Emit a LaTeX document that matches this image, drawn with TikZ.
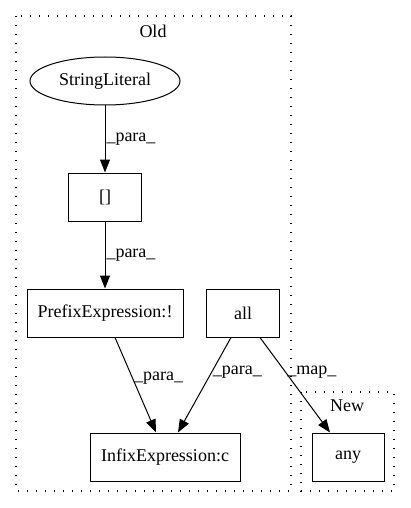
\documentclass[tikz,border=0pt]{standalone}
\usepackage{fontspec}
\setmainfont{Liberation Serif}
\usetikzlibrary{arrows.meta,shapes.geometric}
\begin{document}
\begin{tikzpicture}[x=1pt,y=-1pt,
  every node/.style={font=\fontsize{18}{21}\selectfont},
  box/.style={draw,line width=1pt,minimum height=48pt,inner sep=0pt},
  cluster/.style={draw,line width=1.1pt,dash pattern=on 1.2pt off 7.8pt},
  edge/.style={draw,line width=1pt,-{Triangle[length=13pt,width=10pt]}},
  lbl/.style={inner sep=1pt}]
\useasboundingbox (0,0) rectangle (411,508);
\draw[cluster] (16,16) rectangle (291,491);
\draw[cluster] (301,392) rectangle (394,491);
\node (oldl) at (153,31) {Old};
\node (newl) at (347,406) {New};
\node[draw,ellipse,line width=1pt,minimum width=150pt,minimum height=48pt,inner sep=0pt] (sl) at (105,81) {StringLiteral};
\node[box,minimum width=73pt] (br) at (105,197) {[]};
\node[box,minimum width=156pt] (pe) at (105,313) {PrefixExpression:!};
\node[box,minimum width=73pt] (all) at (243,313) {all};
\node[box,minimum width=150pt] (ie) at (165,457) {InfixExpression:c};
\node[box,minimum width=72pt] (any) at (348,457) {any};
\draw[edge] (sl) -- (br) node[lbl,midway,right] {\_para\_};
\draw[edge] (br) -- (pe) node[lbl,midway,right] {\_para\_};
\draw[edge] (pe.south -| 115,0) -- (ie.north -| 156,0) node[lbl,pos=0.43,right] {\_para\_};
\draw[edge] (all.south -| 231,0) -- (ie.north -| 178,0) node[lbl,pos=0.37,right] {\_para\_};
\draw[edge] (all.south -| 260,0) -- (any.north -| 330,0) node[lbl,pos=0.37,right] {\_map\_};
\end{tikzpicture}
\end{document}
